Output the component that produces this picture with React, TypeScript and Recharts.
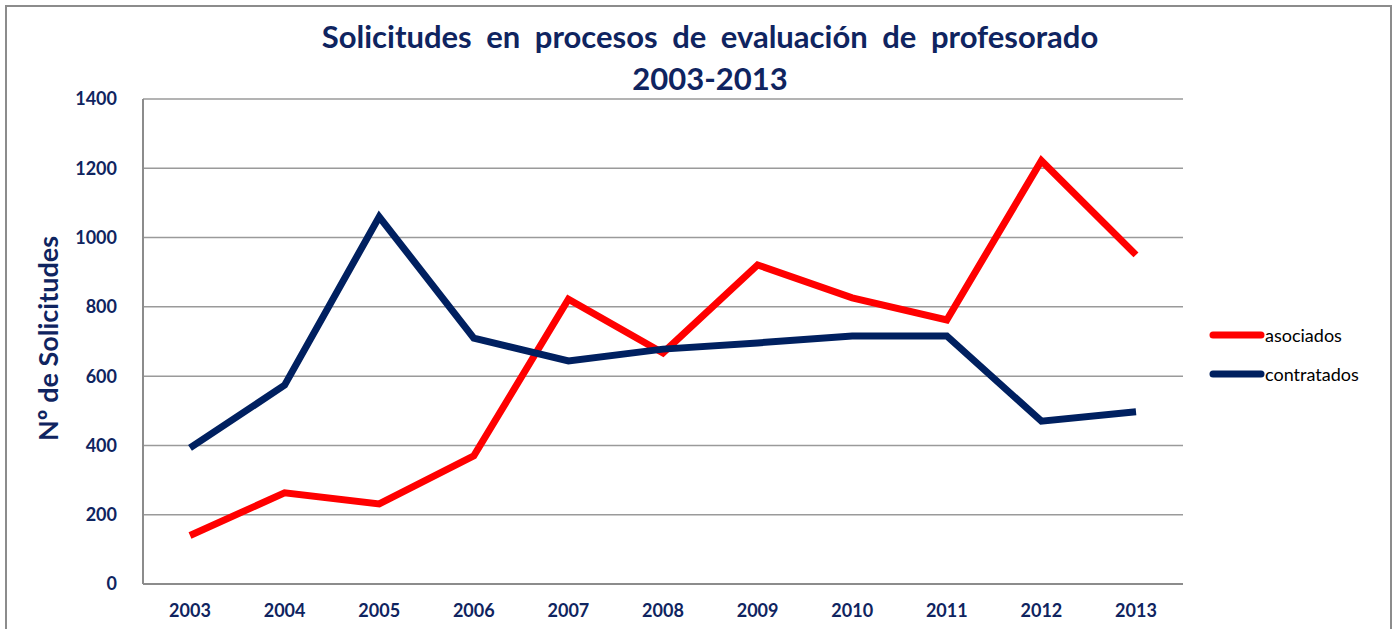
import { LineChart, Line, XAxis, YAxis, CartesianGrid } from 'recharts';

const years = ['2003', '2004', '2005', '2006', '2007', '2008', '2009', '2010', '2011', '2012', '2013'];
const asociados = [140, 263, 231, 370, 822, 667, 921, 826, 762, 1222, 950];
const contratados = [393, 574, 1060, 710, 644, 678, 696, 716, 716, 470, 497];
const yTicks = [0, 200, 400, 600, 800, 1000, 1200, 1400];

const NAVY = '#0f2460';
const FONT = 'Lato, "Open Sans", sans-serif';

const data = years.map((year, i) => ({
  year,
  asociados: asociados[i],
  contratados: contratados[i],
}));

const legendItems = [
  { name: 'asociados', color: '#ff0000' },
  { name: 'contratados', color: '#002060' },
];

function LegendBox() {
  return (
    <div style={{ position: 'absolute', left: 1208, top: 315, fontFamily: FONT, fontSize: 18, color: '#000' }}>
      {legendItems.map((it) => (
        <div key={it.name} style={{ display: 'flex', alignItems: 'center', height: 39 }}>
          <svg width={57} height={10}>
            <line x1={5} y1={5} x2={53} y2={5} stroke={it.color} strokeWidth={7} strokeLinecap="round" />
          </svg>
          <span>{it.name}</span>
        </div>
      ))}
    </div>
  );
}

function YTitle(props: any) {
  const { viewBox } = props;
  const cx = 47;
  const cy = viewBox.y + viewBox.height / 2 - 3;
  return (
    <text
      x={cx}
      y={cy}
      transform={`rotate(-90, ${cx}, ${cy})`}
      textAnchor="middle"
      dominantBaseline="central"
      fill={NAVY}
      fontFamily={FONT}
      fontWeight="bold"
      fontSize={27}
    >
      Nº de Solicitudes
    </text>
  );
}

export default function App() {
  return (
    <div style={{ position: 'absolute', left: 0, top: 0, width: 1399, height: 629, background: '#fff' }}>
      <div
        style={{
          position: 'absolute',
          left: 5,
          top: 5,
          width: 1387,
          height: 640,
          border: '2px solid #8c8c8c',
          boxSizing: 'border-box',
        }}
      />
      <div
        style={{
          position: 'absolute',
          left: 0,
          width: 1420,
          top: 15,
          textAlign: 'center',
          color: NAVY,
          fontFamily: FONT,
          fontWeight: 'bold',
          fontSize: 31,
          lineHeight: '42px',
          wordSpacing: 7,
        }}
      >
        Solicitudes en procesos de evaluación de profesorado
        <br />
        2003-2013
      </div>
      <LineChart
        width={1399}
        height={629}
        data={data}
        margin={{ top: 99, right: 216, bottom: 15, left: 0 }}
        style={{ position: 'absolute', left: 0, top: 0 }}
      >
        <CartesianGrid vertical={false} stroke="#9a9a9a" strokeWidth={1.5} />
        <XAxis
          dataKey="year"
          height={30}
          padding={{ left: 47, right: 47 }}
          tickLine={false}
          tickMargin={14}
          stroke="#8c8c8c"
          strokeWidth={2}
          tick={{ fill: NAVY, fontFamily: FONT, fontWeight: 'bold', fontSize: 18 }}
        />
        <YAxis
          width={143}
          domain={[0, 1400]}
          ticks={yTicks}
          tickLine={false}
          tickMargin={20}
          stroke="#8c8c8c"
          strokeWidth={2}
          tick={{ fill: NAVY, fontFamily: FONT, fontWeight: 'bold', fontSize: 18 }}
          label={<YTitle />}
        />
        <Line
          type="linear"
          dataKey="asociados"
          stroke="#ff0000"
          strokeWidth={7}
          dot={false}
          isAnimationActive={false}
        />
        <Line
          type="linear"
          dataKey="contratados"
          stroke="#002060"
          strokeWidth={7}
          dot={false}
          isAnimationActive={false}
        />
      </LineChart>
      <LegendBox />
    </div>
  );
}
